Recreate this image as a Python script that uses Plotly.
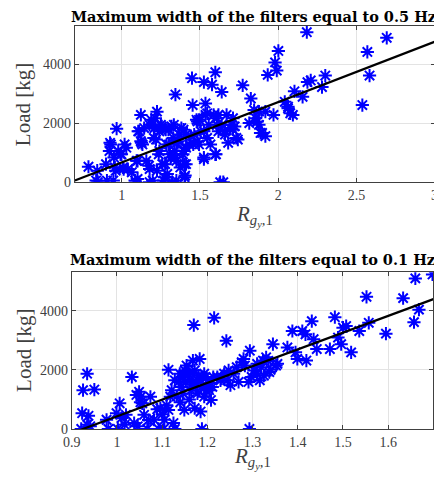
import plotly.graph_objects as go

# ---------------- data: 0.5 Hz ----------------
x_05 = [0.787, 0.843, 0.847, 0.899, 0.905, 0.925, 0.921, 0.946, 0.967, 0.956, 0.977, 0.998, 1.018, 1.029,
        1.008, 1.039, 1.090, 1.101, 1.101, 1.111, 1.122, 1.122, 1.132, 1.143, 1.174, 1.178, 1.194, 1.205,
        1.215, 1.225, 1.225, 1.236, 1.240, 1.256, 1.267, 1.273, 1.277, 1.287, 1.298, 1.308, 1.318, 1.322,
        1.329, 1.339, 1.343, 1.349, 1.349, 1.360, 1.370, 1.381, 1.391, 1.401, 1.401, 1.411, 1.432, 1.449,
        1.453, 1.463, 1.484, 1.494, 1.504, 1.525, 1.525, 1.535, 1.535, 1.546, 1.556, 1.567, 1.577, 1.587,
        1.598, 1.598, 1.608, 1.618, 1.629, 1.639, 1.639, 1.649, 1.660, 1.670, 1.680, 1.691, 1.711, 1.722,
        1.742, 1.773, 1.815, 1.825, 1.846, 1.856, 1.877, 1.887, 1.918, 1.918, 1.933, 1.970, 1.980, 1.991,
        2.001, 2.042, 2.063, 2.077, 2.094, 2.104, 2.156, 2.183, 2.187, 2.208, 2.280, 2.301, 2.538, 2.570,
        2.584, 2.694,
        0.836, 0.930, 0.950, 0.992, 0.961, 1.012, 1.064, 1.085, 1.095, 1.105, 1.126, 1.157, 1.178, 1.178,
        1.188, 1.209, 1.219, 1.198, 1.250, 1.240, 1.260, 1.281, 1.291, 1.302, 1.312, 1.333, 1.343, 1.353,
        1.374, 1.395, 1.395, 1.405, 1.457, 1.478,
        1.494, 1.546, 1.618, 1.701, 1.711, 1.732, 1.660, 1.608, 1.525, 1.484, 1.442, 1.411, 1.525, 1.602,
        1.866, 1.897, 1.877, 2.063, 1.411]
y_05 = [533, 400, 11, 622, 67, 1344, 1067, 67, 1822, 511, 1067, 955, 1289, 1178,
        511, 455, 0, 122, 733, 1733, 2289, 1400, 1289, 1844, 567, 11, 1955, 1511,
        2178, 2400, 400, 955, 1733, 1900, 67, 178, 622, 1289, 1789, 955, 1900, 11,
        1511, 1067, 2978, 67, 733, 1400, 1622, 1844, 955, 178, 622, 1622, 1289, 3533,
        2622, 1622, 2067, 1289, 1733, 789, 3400, 2678, 2289, 1511, 1955, 1289, 3311, 2289,
        3733, 955, 2178, 1733, 11, 3067, 1955, 11, 1622, 2289, 1344, 1844, 2178, 1900,
        1455, 3289, 2011, 2844, 2455, 2178, 1955, 1678, 1567, 2400, 3644, 2289, 4067, 3789,
        4455, 2733, 2566, 2344, 2289, 3089, 2900, 5089, 3400, 3455, 3233, 3622, 2622, 4422,
        3622, 4900,
        67, 1289, 844, 955, 400, 455, 344, 67, 733, 1733, 1344, 733, 455, 1955,
        2122, 1844, 1455, 67, 1955, 1067, 622, 1789, 289, 1289, 844, 1955, 844, 1344,
        511, 1789, 1067, 233, 1289, 2122,
        2122, 2344, 2289, 1955, 1789, 1511, 1733, 1955, 1733, 1400, 1567, 1178, 844, 955,
        2067, 1678, 2400, 2511, 622]
fit_05_slope = 2043.0
fit_05_intercept = -1363.0
xrange_05 = [0.7, 3.0]
xticks_05 = [1, 1.5, 2, 2.5, 3]
xticktext_05 = ["1", "1.5", "2", "2.5", "3"]

# ---------------- data: 0.1 Hz ----------------
x_01 = [0.921, 0.923, 0.925, 0.934, 0.937, 0.934, 0.941, 0.950, 0.977, 0.981, 0.999, 1.002, 1.006, 1.010,
        1.017, 1.020, 1.033, 1.038, 1.046, 1.049, 1.053, 1.056, 1.060, 1.067, 1.074, 1.082, 1.089, 1.092,
        1.096, 1.103, 1.105, 1.114, 1.114, 1.118, 1.121, 1.125, 1.128, 1.128, 1.136, 1.139, 1.143, 1.146,
        1.149, 1.150, 1.154, 1.157, 1.161, 1.164, 1.168, 1.170, 1.172, 1.175, 1.179, 1.183, 1.185, 1.188,
        1.190, 1.193, 1.193, 1.197, 1.201, 1.204, 1.208, 1.211, 1.215, 1.213, 1.222, 1.229, 1.237, 1.242,
        1.244, 1.247, 1.251, 1.258, 1.265, 1.269, 1.276, 1.280, 1.283, 1.294, 1.291, 1.293, 1.298, 1.303,
        1.309, 1.316, 1.319, 1.323, 1.330, 1.337, 1.345, 1.352, 1.355, 1.377, 1.388, 1.395, 1.399, 1.410,
        1.417, 1.419, 1.431, 1.435, 1.442, 1.471, 1.482, 1.489, 1.496, 1.500, 1.507, 1.518, 1.536, 1.552,
        1.557, 1.595, 1.633, 1.657, 1.660, 1.668, 1.698,
        1.145, 1.152, 1.160, 1.166, 1.178, 1.186, 1.198, 1.140, 1.132, 1.110, 1.100, 1.070, 1.052, 1.043,
        1.160, 1.172, 1.180, 1.205, 1.230, 1.325, 1.335, 1.340, 1.310]
y_01 = [0, 533, 1311, 1867, 444, 144, 89, 1333, 311, 0, 533, 0, 867, 367,
        144, 478, 1756, 200, 89, 1256, 1089, 867, 478, 0, 1089, 311, 667, 0,
        700, 0, 311, 2000, 644, 1089, 1311, 200, 0, 1644, 1589, 1867, 1422, 1200,
        644, 1978, 2144, 1867, 1644, 1311, 2311, 3511, 1978, 1533, 1644, 2367, 589, 0,
        1756, 1089, 1867, 1478, 1644, 1311, 978, 1422, 3756, 1756, 1756, 1644, 1867, 2978,
        1644, 1978, 1478, 1867, 2089, 1589, 2255, 2367, 2144, 2644, 1589, 0, 1756, 1978,
        1867, 1644, 2089, 2311, 2422, 1922, 2867, 2144, 2200, 2755, 3311, 2589, 2367, 3311,
        3200, 2311, 3644, 3033, 2700, 2700, 3778, 3089, 2866, 3422, 3478, 2589, 3311, 4467,
        3589, 3222, 4422, 3611, 5089, 4033, 5222,
        1750, 1600, 1850, 1500, 1200, 1400, 1300, 900, 1100, 800, 500, 300, 900, 1150,
        1000, 700, 1800, 1550, 1700, 1800, 2300, 2000, 2200]
fit_01_slope = 5663.0
fit_01_intercept = -5238.0
xrange_01 = [0.9, 1.7]
xticks_01 = [0.9, 1.0, 1.1, 1.2, 1.3, 1.4, 1.5, 1.6, 1.7]
xticktext_01 = ["0.9", "1", "1.1", "1.2", "1.3", "1.4", "1.5", "1.6", "1.7"]

yrange = [0, 5300]
yticks = [0, 2000, 4000]

titles = ["Maximum width of the filters equal to 0.5 Hz",
          "Maximum width of the filters equal to 0.1 Hz"]
ylabel = "Load [kg]"
xlabel = "<i>R</i><sub><i>g</i><sub><i>y</i></sub>,1</sub>"

FONT = "Liberation Serif"
TFONT = "DejaVu Serif"
TICKCOL = "#404040"
GRIDCOL = "#e3e3e3"
BLUE = "#0000ff"

fig = go.Figure()

def add_panel(xs, ys, slope, intercept, xr, suffix):
    fig.add_trace(go.Scatter(
        x=xs, y=ys, mode="markers", xaxis="x" + suffix, yaxis="y" + suffix,
        marker=dict(symbol="asterisk-open", size=11, color=BLUE,
                    line=dict(color=BLUE, width=2)),
        showlegend=False, hoverinfo="skip"))
    fig.add_trace(go.Scatter(
        x=xr, y=[slope * v + intercept for v in xr], mode="lines",
        xaxis="x" + suffix, yaxis="y" + suffix,
        line=dict(color="black", width=2.2), showlegend=False, hoverinfo="skip"))

add_panel(x_05, y_05, fit_05_slope, fit_05_intercept, xrange_05, "")
add_panel(x_01, y_01, fit_01_slope, fit_01_intercept, xrange_01, "2")

# the page body keeps an 8px default margin: place things in page pixels, shifted by OFF
OFF = 8
W, H = 442 - OFF, 481 - OFF

def px(v):
    return (v - OFF) / W

def py(v):
    return 1 - (v - OFF) / H

top_dom_x = [px(67.5), px(437.5)]
bot_dom_x = [px(64.3), px(436.3)]
top_dom_y = [py(185.5), py(26.3)]
bot_dom_y = [py(436.2), py(276.7)]

axis_common = dict(
    showgrid=True, gridcolor=GRIDCOL, gridwidth=1,
    showline=True, linecolor=TICKCOL, linewidth=1, mirror="ticks",
    ticks="inside", ticklen=4, tickcolor=TICKCOL, tickwidth=1,
    tickfont=dict(family=FONT, size=14, color=TICKCOL),
    zeroline=False,
)

fig.update_layout(
    width=W, height=H, margin=dict(l=0, r=0, t=0, b=0),
    paper_bgcolor="white", plot_bgcolor="white",
    xaxis=dict(domain=top_dom_x, range=[xrange_05[0], xrange_05[1] + 1e-4],
               tickvals=xticks_05, ticktext=xticktext_05, anchor="y",
               ticklabeloverflow="allow", **axis_common),
    yaxis=dict(domain=top_dom_y, range=yrange, tickvals=yticks, anchor="x", **axis_common),
    xaxis2=dict(domain=bot_dom_x, range=[xrange_01[0], xrange_01[1] + 1e-4],
                tickvals=xticks_01, ticktext=xticktext_01, anchor="y2", **axis_common),
    yaxis2=dict(domain=bot_dom_y, range=yrange, tickvals=yticks, anchor="x2", **axis_common),
)

ann = []
for t, xc, yc in [(titles[0], 251, 16.5), (titles[1], 250, 264)]:
    ann.append(dict(text="<b>" + t + "</b>", x=px(xc), y=py(yc), xref="paper", yref="paper",
                    showarrow=False, xanchor="center", yanchor="middle",
                    font=dict(family=TFONT, size=14.5, color="black")))
for yc in [106, 356]:
    ann.append(dict(text=ylabel, x=px(15), y=py(yc), xref="paper", yref="paper",
                    showarrow=False, textangle=-90, xanchor="center", yanchor="middle",
                    font=dict(family=FONT, size=21, color=TICKCOL)))
for xc, yc in [(252, 220), (250, 466)]:
    ann.append(dict(text=xlabel, x=px(xc), y=py(yc), xref="paper", yref="paper",
                    showarrow=False, xanchor="center", yanchor="middle",
                    font=dict(family=FONT, size=21, color=TICKCOL)))
fig.update_layout(annotations=ann)

fig.write_html("out.html")
